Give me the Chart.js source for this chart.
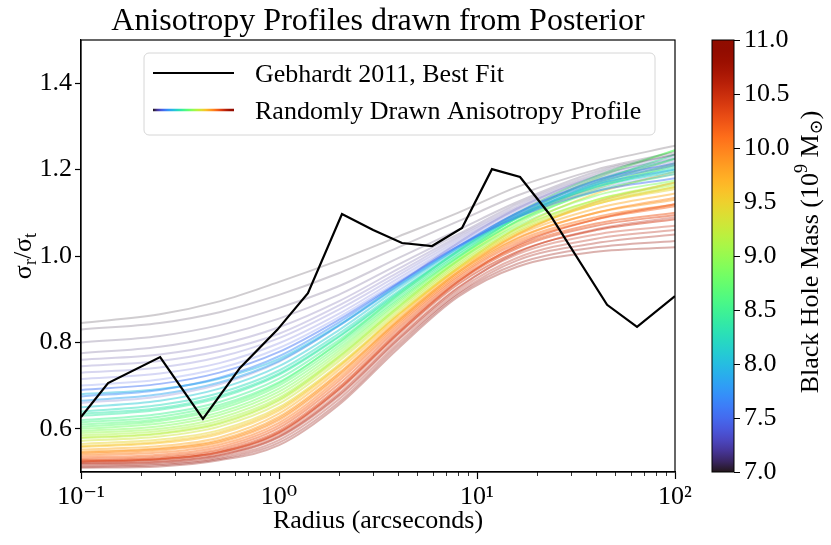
<!DOCTYPE html>
<html>
<head>
<meta charset="utf-8">
<script src="https://cdn.jsdelivr.net/npm/chart.js@4"></script>
<style>
  html, body { margin: 0; padding: 0; background: #fff; }
  #wrap { width: 831px; height: 545px; }
</style>
</head>
<body>
<div id="wrap"><canvas id="profiles"></canvas></div>
<script>
const profileRadii = [0.1, 0.25, 0.5, 1, 2, 4, 8, 16, 40, 100];

// black hole mass (10^9 Msun) of each drawn profile
const drawMasses = [
  7.02, 7.05, 7.08, 7.12, 7.18, 7.22, 7.28, 7.35, 7.45, 7.55,
  7.7, 7.85, 8.0, 8.1, 8.25, 8.4, 8.5, 8.6, 8.7, 8.8,
  8.9, 9.0, 9.1, 9.2, 9.3, 9.45, 9.6, 9.75, 9.85, 9.95,
  10.05, 10.15, 10.25, 10.35, 10.45, 10.55, 10.65, 10.75, 10.85, 10.95,
  8.65, 9.15, 9.9, 10.4, 8.35, 10.6, 7.3, 9.55
];

// sigma_r / sigma_t of each drawn profile at profileRadii
const drawProfiles = [
  [0.845, 0.865, 0.895, 0.94, 0.99, 1.045, 1.10, 1.16, 1.215, 1.255],
  [0.83, 0.845, 0.87, 0.91, 0.96, 1.02, 1.08, 1.14, 1.20, 1.24],
  [0.80, 0.815, 0.84, 0.88, 0.93, 0.995, 1.06, 1.125, 1.195, 1.235],
  [0.775, 0.79, 0.815, 0.855, 0.91, 0.98, 1.05, 1.12, 1.19, 1.235],
  [0.76, 0.772, 0.795, 0.835, 0.895, 0.97, 1.045, 1.115, 1.185, 1.225],
  [0.745, 0.757, 0.78, 0.82, 0.885, 0.962, 1.04, 1.11, 1.18, 1.22],
  [0.73, 0.742, 0.766, 0.81, 0.876, 0.955, 1.035, 1.105, 1.175, 1.215],
  [0.715, 0.728, 0.752, 0.798, 0.866, 0.948, 1.03, 1.10, 1.17, 1.21],
  [0.70, 0.714, 0.74, 0.787, 0.858, 0.942, 1.025, 1.095, 1.155, 1.19],
  [0.69, 0.704, 0.73, 0.778, 0.852, 0.938, 1.022, 1.09, 1.15, 1.18],
  [0.675, 0.69, 0.718, 0.768, 0.846, 0.936, 1.022, 1.10, 1.175, 1.215],
  [0.665, 0.68, 0.707, 0.757, 0.838, 0.93, 1.018, 1.095, 1.165, 1.20],
  [0.68, 0.692, 0.716, 0.762, 0.84, 0.932, 1.02, 1.10, 1.17, 1.21],
  [0.65, 0.665, 0.693, 0.745, 0.828, 0.925, 1.015, 1.092, 1.16, 1.195],
  [0.64, 0.655, 0.683, 0.735, 0.82, 0.918, 1.01, 1.09, 1.165, 1.205],
  [0.63, 0.644, 0.672, 0.725, 0.812, 0.912, 1.005, 1.088, 1.16, 1.20],
  [0.62, 0.634, 0.662, 0.716, 0.805, 0.907, 1.002, 1.088, 1.17, 1.235],
  [0.615, 0.628, 0.655, 0.708, 0.798, 0.902, 0.998, 1.08, 1.15, 1.19],
  [0.605, 0.618, 0.645, 0.70, 0.792, 0.898, 0.996, 1.082, 1.165, 1.225],
  [0.60, 0.612, 0.638, 0.693, 0.786, 0.894, 0.996, 1.09, 1.18, 1.245],
  [0.595, 0.606, 0.632, 0.686, 0.78, 0.89, 0.99, 1.07, 1.14, 1.175],
  [0.59, 0.60, 0.625, 0.679, 0.774, 0.885, 0.988, 1.075, 1.155, 1.21],
  [0.585, 0.595, 0.619, 0.672, 0.768, 0.88, 0.984, 1.065, 1.13, 1.165],
  [0.578, 0.588, 0.611, 0.665, 0.762, 0.876, 0.98, 1.062, 1.13, 1.17],
  [0.572, 0.582, 0.605, 0.658, 0.756, 0.871, 0.976, 1.058, 1.125, 1.16],
  [0.565, 0.575, 0.597, 0.65, 0.748, 0.866, 0.972, 1.055, 1.12, 1.155],
  [0.558, 0.567, 0.588, 0.642, 0.742, 0.862, 0.97, 1.052, 1.12, 1.16],
  [0.552, 0.56, 0.58, 0.635, 0.736, 0.857, 0.966, 1.048, 1.11, 1.145],
  [0.547, 0.555, 0.574, 0.628, 0.729, 0.852, 0.962, 1.042, 1.10, 1.13],
  [0.542, 0.55, 0.568, 0.62, 0.722, 0.847, 0.958, 1.04, 1.10, 1.135],
  [0.538, 0.545, 0.563, 0.614, 0.716, 0.843, 0.954, 1.035, 1.09, 1.12],
  [0.534, 0.54, 0.558, 0.608, 0.71, 0.838, 0.95, 1.03, 1.085, 1.115],
  [0.53, 0.536, 0.553, 0.602, 0.703, 0.832, 0.945, 1.022, 1.075, 1.10],
  [0.527, 0.532, 0.549, 0.596, 0.696, 0.826, 0.94, 1.018, 1.07, 1.095],
  [0.524, 0.529, 0.545, 0.59, 0.689, 0.819, 0.934, 1.01, 1.06, 1.085],
  [0.521, 0.526, 0.541, 0.585, 0.682, 0.812, 0.927, 1.004, 1.05, 1.07],
  [0.518, 0.522, 0.537, 0.58, 0.675, 0.805, 0.92, 0.996, 1.04, 1.06],
  [0.515, 0.519, 0.533, 0.574, 0.668, 0.798, 0.914, 0.99, 1.03, 1.05],
  [0.512, 0.516, 0.53, 0.568, 0.661, 0.792, 0.91, 0.982, 1.02, 1.035],
  [0.51, 0.513, 0.527, 0.562, 0.655, 0.786, 0.905, 0.975, 1.01, 1.02],
  [0.61, 0.622, 0.65, 0.705, 0.80, 0.91, 1.012, 1.10, 1.185, 1.245],
  [0.58, 0.59, 0.614, 0.668, 0.766, 0.882, 0.99, 1.08, 1.16, 1.215],
  [0.545, 0.553, 0.571, 0.624, 0.726, 0.85, 0.962, 1.05, 1.125, 1.17],
  [0.525, 0.53, 0.546, 0.592, 0.692, 0.822, 0.94, 1.025, 1.085, 1.12],
  [0.635, 0.648, 0.676, 0.728, 0.814, 0.915, 1.01, 1.095, 1.175, 1.225],
  [0.52, 0.524, 0.539, 0.582, 0.678, 0.808, 0.925, 1.008, 1.062, 1.09],
  [0.66, 0.675, 0.703, 0.755, 0.838, 0.935, 1.03, 1.11, 1.185, 1.23],
  [0.56, 0.57, 0.592, 0.646, 0.745, 0.864, 0.972, 1.065, 1.145, 1.195]
];

// Gebhardt 2011 best fit
const gebhardtRadius = [0.1, 0.137, 0.251, 0.413, 0.635, 0.98, 1.40, 2.08, 2.99, 4.18, 5.93, 8.40, 11.9, 16.5, 23.4, 45.4, 64.3, 100];
const gebhardtRatio = [0.627, 0.706, 0.766, 0.623, 0.741, 0.829, 0.914, 1.097, 1.060, 1.030, 1.023, 1.065, 1.201, 1.183, 1.095, 0.887, 0.836, 0.907];

// ticks
const xTickValues = [0.1, 1, 10, 100];
const xTickLabels = ['10\u207B\u00B9', '10\u2070', '10\u00B9', '10\u00B2'];
const yTickValues = [0.6, 0.8, 1.0, 1.2, 1.4];
const massTicks = [7.0, 7.5, 8.0, 8.5, 9.0, 9.5, 10.0, 10.5, 11.0];
const massMin = 7, massMax = 11;

const FONT = "'Liberation Serif', 'DejaVu Serif', serif";

// turbo colormap (polynomial approximation)
function turbo(t, alpha) {
    t = Math.min(1, Math.max(0, t));
    const r = 0.13572138 + t * (4.61539260 + t * (-42.66032258 + t * (132.13108234 + t * (-152.94239396 + t * 59.28637943))));
    const g = 0.09140261 + t * (2.19418839 + t * (4.84296658 + t * (-14.18503333 + t * (4.27729857 + t * 2.82956604))));
    const b = 0.10667330 + t * (12.64194608 + t * (-60.58204836 + t * (110.36276771 + t * (-89.90310912 + t * 27.34824973))));
    const c = v => Math.round(255 * Math.min(1, Math.max(0, v)));
    return 'rgba(' + c(r) + ',' + c(g) + ',' + c(b) + ',' + alpha + ')';
}

// tails of the posterior look fainter than the dense middle
function lineAlpha(m) {
    if (m < 7.5) return 0.22;
    if (m > 10.5) return 0.32;
    return 0.48;
}

const gebSet = {
    label: 'Gebhardt 2011, Best Fit',
    data: gebhardtRadius.map((r, i) => ({ x: r, y: gebhardtRatio[i] })),
    borderColor: '#000',
    borderWidth: 2.2,
    pointRadius: 0,
    tension: 0,
    order: 0
};

const profileSets = drawMasses.map((m, i) => ({
    label: 'Randomly Drawn Anisotropy Profile',
    data: profileRadii.map((r, j) => ({ x: r, y: drawProfiles[i][j] })),
    borderColor: turbo((m - massMin) / (massMax - massMin), lineAlpha(m)),
    borderWidth: 2,
    pointRadius: 0,
    cubicInterpolationMode: 'monotone',
    order: 1
}));

// draws pieces of text (with sub/superscripts) rotated -90deg, centred at cx,cy
function drawRotated(c, pieces, cx, cy) {
    let total = 0;
    pieces.forEach(p => { c.font = p.size + 'px ' + FONT; p.w = c.measureText(p.t).width; total += p.w; });
    c.save();
    c.translate(cx, cy);
    c.rotate(-Math.PI / 2);
    c.fillStyle = '#000';
    c.textBaseline = 'alphabetic';
    c.textAlign = 'left';
    let x = -total / 2;
    pieces.forEach(p => {
        c.font = p.size + 'px ' + FONT;
        c.fillText(p.t, x, p.dy || 0);
        x += p.w;
    });
    c.restore();
}

const decor = {
    id: 'decor',
    afterDraw(chart) {
        const c = chart.ctx;
        const a = chart.chartArea;
        const xs = chart.scales.x;
        const cb = chart.scales.cb;

        // minor log ticks
        c.save();
        c.strokeStyle = '#000';
        c.lineWidth = 0.8;
        [0.1, 1, 10].forEach(d => {
            for (let k = 2; k <= 9; k++) {
                const px = Math.round(xs.getPixelForValue(k * d)) + 0.5;
                c.beginPath();
                c.moveTo(px, a.bottom);
                c.lineTo(px, a.bottom + 4);
                c.stroke();
            }
        });
        // frame
        c.lineWidth = 1.2;
        c.strokeRect(a.left, a.top, a.right - a.left, a.bottom - a.top);

        // colorbar
        const barL = cb.left - 22, barR = cb.left;
        const top = cb.getPixelForValue(massMax), bot = cb.getPixelForValue(massMin);
        const grad = c.createLinearGradient(0, bot, 0, top);
        for (let k = 0; k <= 40; k++) grad.addColorStop(k / 40, turbo(k / 40, 1));
        c.fillStyle = grad;
        c.fillRect(barL, top, barR - barL, bot - top);
        c.lineWidth = 1;
        c.strokeRect(barL, top, barR - barL, bot - top);

        // legend
        const lx = 144, ly = 53, lw = 511, lh = 82;
        c.beginPath();
        c.roundRect(lx, ly, lw, lh, 5);
        c.fillStyle = 'rgba(255,255,255,0.8)';
        c.fill();
        c.strokeStyle = '#d6d6d6';
        c.lineWidth = 1;
        c.stroke();
        c.strokeStyle = '#000';
        c.lineWidth = 2.2;
        c.beginPath();
        c.moveTo(153, 73);
        c.lineTo(234, 73);
        c.stroke();
        const lg = c.createLinearGradient(153, 0, 234, 0);
        for (let k = 0; k <= 20; k++) lg.addColorStop(k / 20, turbo(k / 20, 1));
        c.strokeStyle = lg;
        c.lineWidth = 2.6;
        c.beginPath();
        c.moveTo(153, 110);
        c.lineTo(234, 110);
        c.stroke();
        c.fillStyle = '#000';
        c.font = '26px ' + FONT;
        c.textBaseline = 'alphabetic';
        c.textAlign = 'left';
        c.fillText('Gebhardt 2011, Best Fit', 255, 82);
        c.fillText('Randomly Drawn Anisotropy Profile', 255, 119);
        c.restore();

        // axis titles
        drawRotated(c, [
            { t: '\u03C3', size: 26 },
            { t: 'r', size: 18, dy: 5 },
            { t: '/\u03C3', size: 26 },
            { t: 't', size: 18, dy: 5 }
        ], 31, (a.top + a.bottom) / 2);
        drawRotated(c, [
            { t: 'Black Hole Mass (10', size: 26 },
            { t: '9', size: 18, dy: -11 },
            { t: ' M', size: 26 },
            { t: '\u2299', size: 18, dy: 4 },
            { t: ')', size: 26 }
        ], 818, (a.top + a.bottom) / 2 - 4);
    }
};

const ctx = document.getElementById('profiles');
const profileChart = new Chart(ctx, {
    type: 'line',
    data: { datasets: [gebSet, ...profileSets] },
    options: {
        animation: false,
        responsive: true,
        maintainAspectRatio: false,
        layout: { padding: 0 },
        plugins: {
            legend: { display: false },
            tooltip: { enabled: false },
            title: {
                display: true,
                text: 'Anisotropy Profiles drawn from Posterior',
                color: '#000',
                fullSize: false,
                font: { family: FONT, size: 32, weight: 'normal', lineHeight: 1.1 },
                padding: { top: 4.4, bottom: 0.4 }
            }
        },
        scales: {
            x: {
                type: 'logarithmic',
                position: 'bottom',
                min: 0.1,
                max: 100,
                afterBuildTicks: s => { s.ticks = xTickValues.map(v => ({ value: v })); },
                afterFit: s => { s.height = 73; },
                ticks: {
                    color: '#000',
                    font: { family: FONT, size: 26 },
                    maxRotation: 0,
                    autoSkip: false,
                    padding: 3,
                    callback: v => xTickLabels[xTickValues.indexOf(v)]
                },
                grid: { drawOnChartArea: false, drawTicks: true, tickLength: 7, color: '#000', tickWidth: 1.2 },
                border: { display: true, color: '#000', width: 1.2 },
                title: {
                    display: true,
                    text: 'Radius (arcseconds)',
                    color: '#000',
                    font: { family: FONT, size: 26 },
                    padding: { top: 0, bottom: 8 }
                }
            },
            y: {
                type: 'linear',
                position: 'left',
                min: 0.5,
                max: 1.5,
                afterBuildTicks: s => { s.ticks = yTickValues.map(v => ({ value: v })); },
                afterFit: s => { s.width = 81; },
                ticks: {
                    color: '#000',
                    font: { family: FONT, size: 26 },
                    padding: 3,
                    callback: v => v.toFixed(1)
                },
                grid: { drawOnChartArea: false, drawTicks: true, tickLength: 6, color: '#000', tickWidth: 1.2 },
                border: { display: true, color: '#000', width: 1.2 }
            },
            gap: {
                type: 'linear',
                position: 'right',
                weight: 0,
                afterFit: s => { s.width = 59; },
                ticks: { display: false },
                grid: { display: false },
                border: { display: false }
            },
            cb: {
                type: 'linear',
                position: 'right',
                weight: 1,
                min: massMin,
                max: massMax,
                afterBuildTicks: s => { s.ticks = massTicks.map(v => ({ value: v })); },
                afterFit: s => { s.width = 97; },
                ticks: {
                    color: '#000',
                    font: { family: FONT, size: 26 },
                    padding: 4,
                    callback: v => v.toFixed(1)
                },
                grid: { drawOnChartArea: false, drawTicks: true, tickLength: 6, color: '#000', tickWidth: 1 },
                border: { display: false }
            }
        }
    },
    plugins: [decor]
});
</script>
</body>
</html>
